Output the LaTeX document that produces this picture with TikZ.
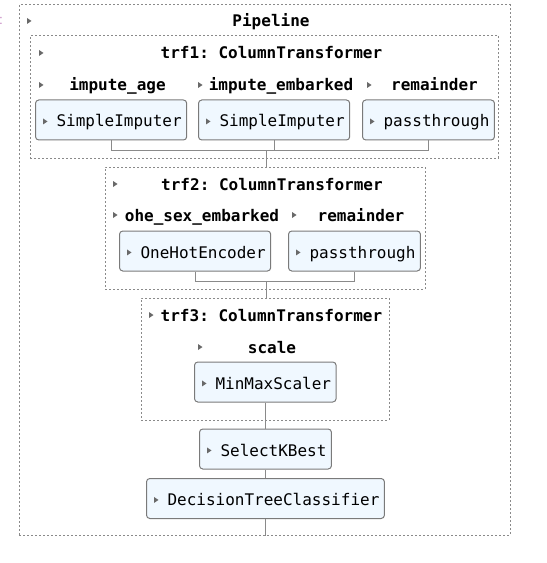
\documentclass[tikz,border=0pt]{standalone}
\usepackage{fontspec}
\setmonofont{DejaVu Sans Mono}
\usetikzlibrary{fit}
\definecolor{lineg}{HTML}{8A8A8A}
\definecolor{boxb}{HTML}{7A7A7A}
\definecolor{boxf}{HTML}{F0F8FF}
\definecolor{trig}{HTML}{696969}
\definecolor{pinkc}{HTML}{C586C0}
\tikzset{
 dbox/.style={draw=lineg, line width=0.75pt, dash pattern=on 1.5pt off 1.5pt, inner sep=0pt},
 est/.style={draw=boxb, fill=boxf, line width=0.75pt, rounded corners=2.5pt, anchor=west, inner xsep=0pt, minimum height=30pt, font=\ttfamily\fontsize{12}{14}\selectfont, text height=10.5pt, text depth=0pt, text=black},
 lbl/.style={font=\ttfamily\bfseries\fontsize{12}{14}\selectfont, text height=10.5pt, text depth=0pt, inner sep=0pt, text=black},
 conn/.style={draw=lineg, line width=0.75pt},
 tri/.pic={\fill[trig] (0,-3) -- (4.5,0) -- (0,3) -- cycle;}
}
\begin{document}
\begin{tikzpicture}[x=0.75pt,y=-0.75pt]
\useasboundingbox (0,0) rectangle (546,563);
\node[text=pinkc, font=\sffamily\fontsize{12}{14}\selectfont, inner sep=0pt] (colon) at (1,21) {:};
% dashed containers
\node[dbox, fit={(19,5) (510,535)}] (pipe) {};
\node[dbox, fit={(30,36) (498.5,158)}] (c1) {};
\node[dbox, fit={(105,167) (425,289)}] (c2) {};
\node[dbox, fit={(141,298) (389,420)}] (c3) {};
% titles and labels
\node[lbl] (ptitle) at (271,20) {Pipeline};
\node[lbl] (t1title) at (271.5,52) {trf1: ColumnTransformer};
\node[lbl] (l11) at (117.5,84) {impute\_age};
\node[lbl] (l12) at (281,84) {impute\_embarked};
\node[lbl] (l13) at (434.5,84) {remainder};
\node[lbl] (t2title) at (272,183) {trf2: ColumnTransformer};
\node[lbl] (l21) at (202,214) {ohe\_sex\_embarked};
\node[lbl] (l22) at (361,214) {remainder};
\node[lbl] (t3title) at (271.5,314) {trf3: ColumnTransformer};
\node[lbl] (l31) at (272,346) {scale};
% triangles of labels
\pic at (27,21) {tri};
\pic at (39,53) {tri};
\pic at (39,85) {tri};
\pic at (198,85) {tri};
\pic at (367,85) {tri};
\pic at (113,184) {tri};
\pic at (113,215) {tri};
\pic at (292,215) {tri};
\pic at (149,315) {tri};
\pic at (198,347) {tri};
% estimator boxes
\coordinate (j1) at (266,150);
\coordinate (j2) at (266,281);
\node[est] (b1) at (35,120) {\hspace*{15.75pt}SimpleImputer\hspace*{3.75pt}};
\node[est] (b2) at (198,120) {\hspace*{15.75pt}SimpleImputer\hspace*{3.75pt}};
\node[est] (b3) at (362,120) {\hspace*{15.75pt}passthrough\hspace*{3.75pt}};
\node[est] (e1) at (119,251) {\hspace*{15.75pt}OneHotEncoder\hspace*{3.75pt}};
\node[est] (e2) at (288,251) {\hspace*{15.75pt}passthrough\hspace*{3.75pt}};
\node[est] (mm) at (194,382) {\hspace*{15.75pt}MinMaxScaler\hspace*{3.75pt}};
\node[est] (sk) at (199,449) {\hspace*{15.75pt}SelectKBest\hspace*{3.75pt}};
\node[est] (dt) at (146,498.5) {\hspace*{15.75pt}DecisionTreeClassifier\hspace*{3.75pt}};
% connectors
\draw[conn] (b1.south) -- (b1.south |- j1) -- (b3.south |- j1) -- (b3.south);
\draw[conn] (b2.south) -- (b2.south |- j1);
\draw[conn] (j1) -- (j1 |- c2.north);
\draw[conn] (e1.south) -- (e1.south |- j2) -- (e2.south |- j2) -- (e2.south);
\draw[conn] (j2) -- (j2 |- c3.north);
\draw[conn] (mm.south) -- (mm.south |- sk.north);
\draw[conn] (sk.south) -- (sk.south |- dt.north);
\draw[conn] (dt.south) -- (dt.south |- pipe.south);
% triangles inside estimator boxes
\foreach \n in {b1,b2,b3,e1,e2,mm,sk,dt}{
  \pic at ([xshift=6pt,yshift=-1.1pt]\n.west) {tri};
}
\end{tikzpicture}
\end{document}
